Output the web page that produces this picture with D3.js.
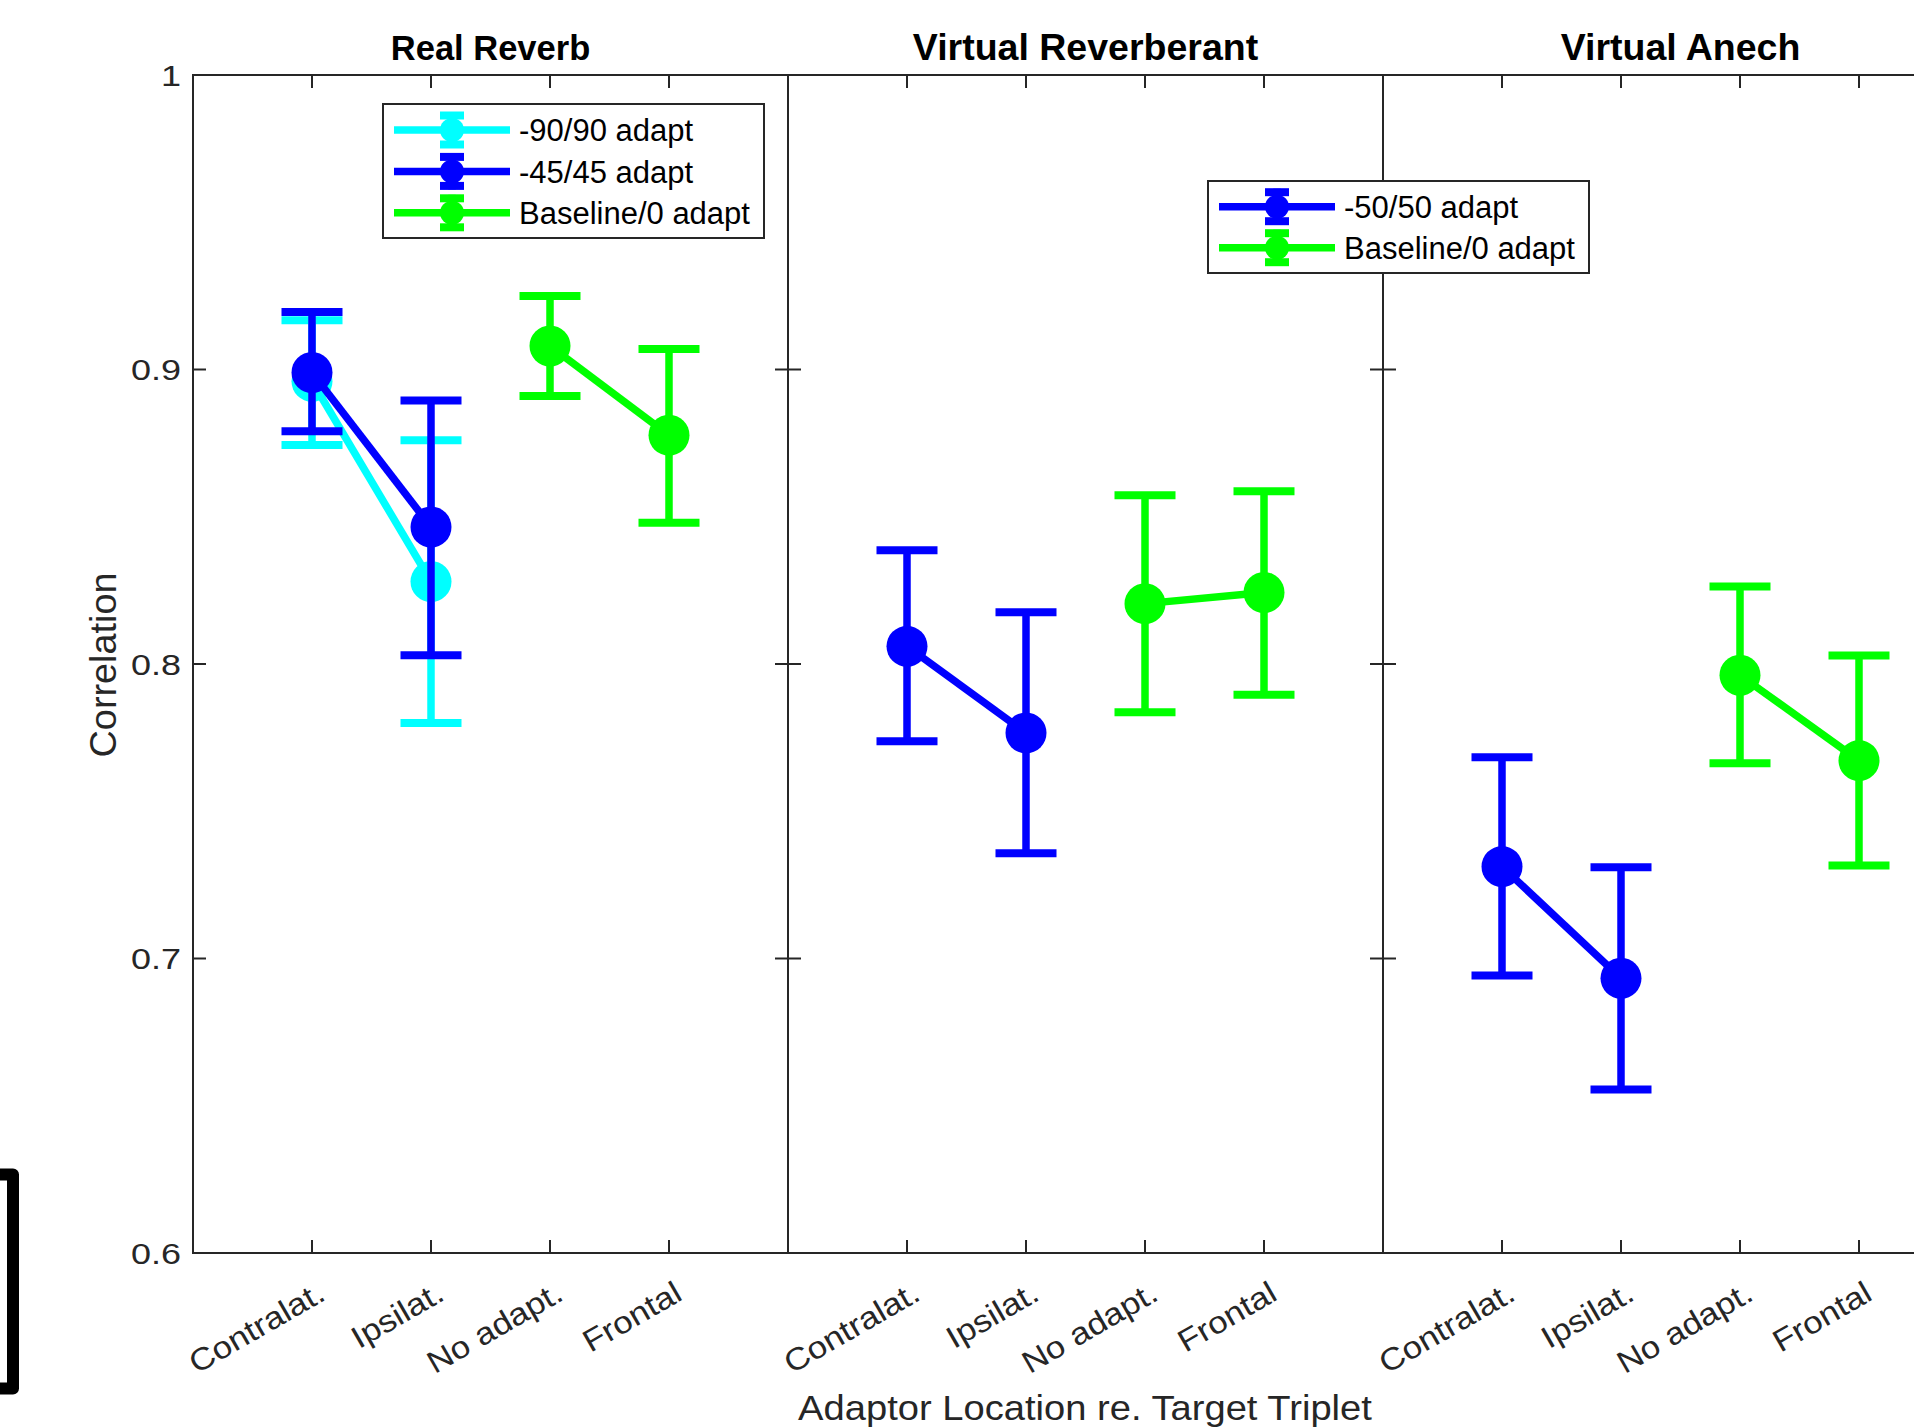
<!DOCTYPE html>
<html>
<head>
<meta charset="utf-8">
<script src="https://cdn.jsdelivr.net/npm/d3@7"></script>
<style>
  html, body { margin: 0; padding: 0; background: #fff; }
  svg { display: block; }
  text { font-family: "Liberation Sans", Arial, Helvetica, sans-serif; }
</style>
</head>
<body>
<svg id="chart" width="1914" height="1427"></svg>
<script>
// ---------- DATA ----------
const panels = ["Real Reverb", "Virtual Reverberant", "Virtual Anech"];
const categories = ["Contralat.", "Ipsilat.", "No adapt.", "Frontal"];
const yTicks = [0.6, 0.7, 0.8, 0.9, 1];
const yTickLabels = ["0.6", "0.7", "0.8", "0.9", "1"];

// Real Reverb
const rr90Cats = ["Contralat.", "Ipsilat."];
const rr90Mean = [0.896, 0.828];
const rr90Lo   = [0.8744, 0.780];
const rr90Hi   = [0.9167, 0.876];

const rr45Cats = ["Contralat.", "Ipsilat."];
const rr45Mean = [0.899, 0.8465];
const rr45Lo   = [0.879, 0.803];
const rr45Hi   = [0.9195, 0.8895];

const rrBaseCats = ["No adapt.", "Frontal"];
const rrBaseMean = [0.908, 0.8777];
const rrBaseLo   = [0.891, 0.848];
const rrBaseHi   = [0.925, 0.907];

// Virtual Reverberant
const vr50Cats = ["Contralat.", "Ipsilat."];
const vr50Mean = [0.806, 0.7766];
const vr50Lo   = [0.7738, 0.7357];
const vr50Hi   = [0.8386, 0.8176];

const vrBaseCats = ["No adapt.", "Frontal"];
const vrBaseMean = [0.8205, 0.8243];
const vrBaseLo   = [0.7836, 0.7896];
const vrBaseHi   = [0.8573, 0.8587];

// Virtual Anech
const va50Cats = ["Contralat.", "Ipsilat."];
const va50Mean = [0.7312, 0.6933];
const va50Lo   = [0.6942, 0.6555];
const va50Hi   = [0.7683, 0.731];

const vaBaseCats = ["No adapt.", "Frontal"];
const vaBaseMean = [0.7962, 0.7672];
const vaBaseLo   = [0.7663, 0.7316];
const vaBaseHi   = [0.8263, 0.8029];

const legend1Labels = ["-90/90 adapt", "-45/45 adapt", "Baseline/0 adapt"];
const legend2Labels = ["-50/50 adapt", "Baseline/0 adapt"];

// ---------- STYLE / LAYOUT ----------
const CYAN = "#00FFFF", BLUE = "#0000FF", GREEN = "#00FF00";
const AXC = "#262626";
const panelSeries = [
  [
    {cats: rr90Cats, mean: rr90Mean, lo: rr90Lo, hi: rr90Hi, color: CYAN},
    {cats: rr45Cats, mean: rr45Mean, lo: rr45Lo, hi: rr45Hi, color: BLUE},
    {cats: rrBaseCats, mean: rrBaseMean, lo: rrBaseLo, hi: rrBaseHi, color: GREEN}
  ],
  [
    {cats: vr50Cats, mean: vr50Mean, lo: vr50Lo, hi: vr50Hi, color: BLUE},
    {cats: vrBaseCats, mean: vrBaseMean, lo: vrBaseLo, hi: vrBaseHi, color: GREEN}
  ],
  [
    {cats: va50Cats, mean: va50Mean, lo: va50Lo, hi: va50Hi, color: BLUE},
    {cats: vaBaseCats, mean: vaBaseMean, lo: vaBaseLo, hi: vaBaseHi, color: GREEN}
  ]
];
const titleSizes = [34.5, 37.5, 37.5];

const plotTop = 75, plotBottom = 1253;
const left0 = 193, panelW = 595;
const svg = d3.select("#chart");

const y = d3.scaleLinear().domain([0.6, 1]).range([plotBottom, plotTop]);
const lw = 7.5, capW = 61, markerR = 20.5, tickLen = 13;

panels.forEach((title, pi) => {
  const x0 = left0 + pi * panelW;
  const x = d3.scaleLinear().domain([0, 5]).range([x0, x0 + panelW]);
  const catX = c => x(categories.indexOf(c) + 1);
  const g = svg.append("g");

  // title
  g.append("text").attr("x", x0 + panelW / 2).attr("y", 60)
    .attr("text-anchor", "middle").attr("font-weight", "bold")
    .attr("font-size", titleSizes[pi]).attr("fill", "#000").text(title);

  // box
  g.append("rect").attr("x", x0).attr("y", plotTop).attr("width", panelW).attr("height", plotBottom - plotTop)
    .attr("fill", "none").attr("stroke", AXC).attr("stroke-width", 2);

  // x ticks (bottom and top)
  categories.forEach((c, i) => {
    const xx = x(i + 1);
    g.append("line").attr("x1", xx).attr("x2", xx).attr("y1", plotBottom).attr("y2", plotBottom - tickLen)
      .attr("stroke", AXC).attr("stroke-width", 2);
    g.append("line").attr("x1", xx).attr("x2", xx).attr("y1", plotTop).attr("y2", plotTop + tickLen)
      .attr("stroke", AXC).attr("stroke-width", 2);
    g.append("text")
      .attr("transform", `translate(${xx + 15},${plotBottom + 46}) rotate(-30) scale(1.12,1)`)
      .attr("text-anchor", "end").attr("font-size", 31).attr("fill", AXC).text(c);
  });

  // y ticks left and right
  yTicks.forEach((t, i) => {
    const yy = y(t);
    g.append("line").attr("x1", x0).attr("x2", x0 + tickLen).attr("y1", yy).attr("y2", yy)
      .attr("stroke", AXC).attr("stroke-width", 2);
    g.append("line").attr("x1", x0 + panelW).attr("x2", x0 + panelW - tickLen).attr("y1", yy).attr("y2", yy)
      .attr("stroke", AXC).attr("stroke-width", 2);
    if (pi === 0) {
      g.append("text").attr("transform", `translate(${x0 - 12},${yy}) scale(1.2,1)`).attr("dy", "0.36em")
        .attr("text-anchor", "end").attr("font-size", 30).attr("fill", AXC).text(yTickLabels[i]);
    }
  });

  // data
  panelSeries[pi].forEach(s => {
    const pts = s.cats.map((c, i) => ({x: catX(c), m: s.mean[i], lo: s.lo[i], hi: s.hi[i]}));
    const sg = g.append("g");
    sg.append("path").datum(pts)
      .attr("d", d3.line().x(d => d.x).y(d => y(d.m)))
      .attr("fill", "none").attr("stroke", s.color).attr("stroke-width", lw);
    pts.forEach(p => {
      sg.append("line").attr("x1", p.x).attr("x2", p.x).attr("y1", y(p.lo)).attr("y2", y(p.hi))
        .attr("stroke", s.color).attr("stroke-width", lw);
      [p.lo, p.hi].forEach(v => {
        sg.append("line").attr("x1", p.x - capW / 2).attr("x2", p.x + capW / 2)
          .attr("y1", y(v)).attr("y2", y(v)).attr("stroke", s.color).attr("stroke-width", 8);
      });
      sg.append("circle").attr("cx", p.x).attr("cy", y(p.m)).attr("r", markerR).attr("fill", s.color);
    });
  });
});

// legends
function legend(bx, by, bw, bh, labels, colors, rowY0, rowStep, lineX0, lineX1, textX) {
  const g = svg.append("g");
  g.append("rect").attr("x", bx).attr("y", by).attr("width", bw).attr("height", bh)
    .attr("fill", "#fff").attr("stroke", AXC).attr("stroke-width", 2);
  labels.forEach((lab, i) => {
    const ry = rowY0 + i * rowStep;
    const c = colors[i];
    const mx = (lineX0 + lineX1) / 2;
    g.append("line").attr("x1", lineX0).attr("x2", lineX1).attr("y1", ry).attr("y2", ry)
      .attr("stroke", c).attr("stroke-width", lw);
    g.append("line").attr("x1", mx).attr("x2", mx).attr("y1", ry - 18).attr("y2", ry + 18)
      .attr("stroke", c).attr("stroke-width", lw);
    [-14.5, 14.5].forEach(o => {
      g.append("line").attr("x1", mx - 12).attr("x2", mx + 12).attr("y1", ry + o).attr("y2", ry + o)
        .attr("stroke", c).attr("stroke-width", 8);
    });
    g.append("circle").attr("cx", mx).attr("cy", ry).attr("r", 12).attr("fill", c);
    g.append("text").attr("x", textX).attr("y", ry).attr("dy", "0.36em")
      .attr("font-size", 31).attr("fill", "#000").text(lab);
  });
}
legend(383, 104, 381, 134, legend1Labels, [CYAN, BLUE, GREEN], 130, 41.4, 394, 510, 519);
legend(1208, 181, 381, 92, legend2Labels, [BLUE, GREEN], 206.7, 41, 1219, 1335, 1344);

// axis labels
svg.append("text").attr("transform", "translate(1085,1420) scale(1.09,1)").attr("text-anchor", "middle")
  .attr("font-size", 35).attr("fill", AXC).text("Adaptor Location re. Target Triplet");
svg.append("text").attr("transform", "translate(116,665) rotate(-90) scale(1.05,1)").attr("text-anchor", "middle")
  .attr("font-size", 36).attr("fill", AXC).text("Correlation");

// bracket at left
svg.append("path").attr("d", "M0,1174.5 H13 V1388.5 H0")
  .attr("fill", "none").attr("stroke", "#000").attr("stroke-width", 12)
  .attr("stroke-linejoin", "round");
</script>
</body>
</html>
